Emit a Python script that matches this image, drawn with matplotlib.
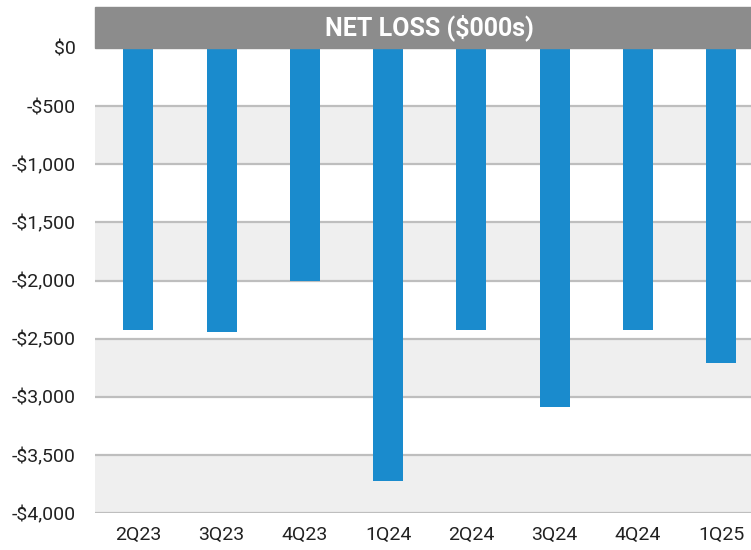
import matplotlib.pyplot as plt
from matplotlib.patches import Rectangle
from matplotlib.ticker import FuncFormatter

quarters = ["2Q23", "3Q23", "4Q23", "1Q24", "2Q24", "3Q24", "4Q24", "1Q25"]
net_loss = [-2426, -2444, -2000, -3721, -2430, -3086, -2425, -2709]
y_ticks = [0, -500, -1000, -1500, -2000, -2500, -3000, -3500, -4000]
title = "NET LOSS ($000s)"

BAR_COLOR = "#1a8bcd"
BAND_COLOR = "#efefef"
GRID_COLOR = "#bebebe"
HEADER_COLOR = "#8c8c8c"

plt.rcParams["font.family"] = ["Roboto", "DejaVu Sans"]


def money(v, pos):
    if v == 0:
        return "$0"
    return "-${:,.0f}".format(abs(v))


fig = plt.figure(figsize=(7.51, 5.5), dpi=100)
ax = fig.add_axes([95 / 751, 1 - 513 / 550, 656 / 751, 465 / 550])

# alternating bands
for hi in range(-500, -4000, -1000):
    ax.axhspan(hi - 500, hi, color=BAND_COLOR, zorder=0, lw=0)
for t in y_ticks[1:]:
    ax.axhline(t, color=GRID_COLOR, lw=1.6, zorder=1)

ax.bar(range(len(quarters)), net_loss, width=0.36, color=BAR_COLOR, zorder=2)

ax.set_xlim(-0.52, 7.36)
ax.set_ylim(-4000, 0)
ax.set_yticks(y_ticks)
ax.yaxis.set_major_formatter(FuncFormatter(money))
ax.set_xticks(range(len(quarters)))
ax.set_xticklabels(quarters)
ax.tick_params(length=0, colors="#222222")
ax.tick_params(axis="y", labelsize=14, pad=14)
ax.tick_params(axis="x", labelsize=14, pad=9)
for s in ax.spines.values():
    s.set_visible(False)

# header bar
hdr = 41 / 465
ax.add_patch(Rectangle((0, 1), 1, hdr, transform=ax.transAxes,
                       color=HEADER_COLOR, clip_on=False, zorder=3))
ax.text(0.51, 1 + hdr / 2, title, transform=ax.transAxes, ha="center",
        va="center", color="white", fontsize=18, fontweight="bold", zorder=4)

fig.savefig("out.png", dpi=100)
